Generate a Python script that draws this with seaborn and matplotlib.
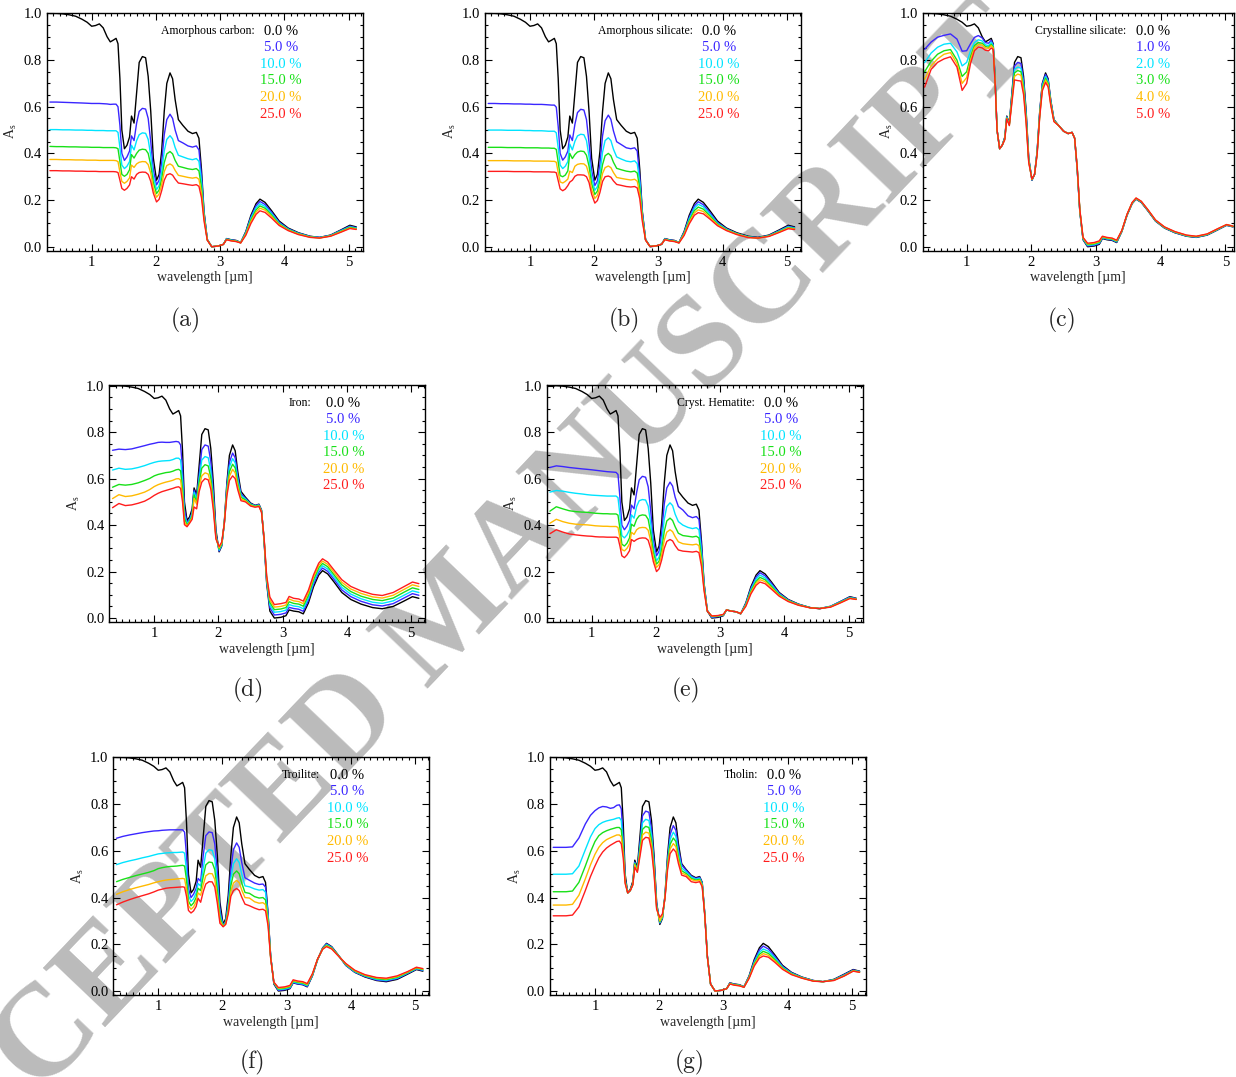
import numpy as np
import pandas as pd
import matplotlib
matplotlib.use("Agg")
import matplotlib.pyplot as plt
from matplotlib.ticker import MultipleLocator, FormatStrFormatter
import seaborn as sns

# ---------------- data ----------------
wl = [0.35, 0.45, 0.55, 0.65, 0.75, 0.85, 0.93, 1.00, 1.06, 1.12,
      1.18, 1.24, 1.29, 1.34, 1.38, 1.41, 1.44, 1.47, 1.51, 1.55,
      1.59, 1.62, 1.66, 1.70, 1.74, 1.79, 1.84, 1.88, 1.92, 1.96,
      2.01, 2.05, 2.09, 2.13, 2.17, 2.22, 2.26, 2.30, 2.35, 2.42,
      2.50, 2.57, 2.63, 2.67, 2.71, 2.75, 2.80, 2.87, 2.97, 3.05,
      3.10, 3.17, 3.25, 3.32, 3.40, 3.48, 3.56, 3.62, 3.70, 3.80,
      3.92, 4.06, 4.22, 4.40, 4.55, 4.72, 4.88, 5.02, 5.12]

ice = [1.000, 1.000, 0.998, 0.994, 0.988, 0.975, 0.962, 0.945, 0.948, 0.955,
       0.938, 0.900, 0.878, 0.886, 0.893, 0.870, 0.720, 0.500, 0.420, 0.435,
       0.470, 0.560, 0.530, 0.660, 0.790, 0.815, 0.810, 0.730, 0.580, 0.380,
       0.285, 0.310, 0.410, 0.580, 0.700, 0.745, 0.720, 0.630, 0.545, 0.520,
       0.495, 0.485, 0.490, 0.465, 0.330, 0.150, 0.030, 0.000, 0.003, 0.010,
       0.035, 0.030, 0.027, 0.018, 0.065, 0.135, 0.185, 0.204, 0.190, 0.155,
       0.110, 0.080, 0.060, 0.045, 0.040, 0.050, 0.072, 0.092, 0.085]

# (a) amorphous carbon
amc_5 = [0.620, 0.620, 0.619, 0.618, 0.617, 0.616, 0.615, 0.614, 0.614, 0.614,
         0.613, 0.612, 0.610, 0.611, 0.611, 0.600, 0.520, 0.400, 0.370, 0.385,
         0.410, 0.475, 0.455, 0.530, 0.580, 0.593, 0.590, 0.550, 0.450, 0.330,
         0.265, 0.285, 0.360, 0.480, 0.545, 0.568, 0.550, 0.500, 0.455, 0.445,
         0.432, 0.427, 0.432, 0.415, 0.305, 0.145, 0.032, 0.000, 0.003, 0.010,
         0.034, 0.029, 0.026, 0.018, 0.062, 0.128, 0.176, 0.194, 0.181, 0.148,
         0.105, 0.077, 0.058, 0.044, 0.040, 0.049, 0.070, 0.088, 0.082]
amc_10 = [0.502, 0.502, 0.501, 0.501, 0.500, 0.500, 0.499, 0.499, 0.498, 0.498,
          0.498, 0.497, 0.497, 0.497, 0.497, 0.490, 0.425, 0.350, 0.335, 0.345,
          0.365, 0.435, 0.415, 0.455, 0.480, 0.488, 0.486, 0.460, 0.390, 0.300,
          0.245, 0.262, 0.320, 0.410, 0.460, 0.476, 0.462, 0.425, 0.392, 0.385,
          0.377, 0.373, 0.378, 0.366, 0.280, 0.135, 0.031, 0.000, 0.003, 0.010,
          0.033, 0.028, 0.025, 0.018, 0.059, 0.122, 0.167, 0.184, 0.173, 0.142,
          0.101, 0.075, 0.057, 0.043, 0.039, 0.048, 0.068, 0.085, 0.080]
amc_15 = [0.430, 0.429, 0.429, 0.428, 0.428, 0.427, 0.427, 0.426, 0.426, 0.426,
          0.425, 0.425, 0.425, 0.425, 0.424, 0.420, 0.365, 0.310, 0.302, 0.310,
          0.330, 0.395, 0.380, 0.400, 0.414, 0.418, 0.416, 0.400, 0.350, 0.275,
          0.228, 0.243, 0.290, 0.360, 0.398, 0.408, 0.398, 0.370, 0.345, 0.340,
          0.334, 0.331, 0.335, 0.325, 0.255, 0.128, 0.030, 0.000, 0.003, 0.010,
          0.032, 0.027, 0.024, 0.017, 0.056, 0.115, 0.158, 0.175, 0.165, 0.136,
          0.098, 0.073, 0.055, 0.042, 0.038, 0.047, 0.066, 0.083, 0.078]
amc_20 = [0.374, 0.374, 0.373, 0.373, 0.372, 0.372, 0.371, 0.371, 0.371, 0.370,
          0.370, 0.370, 0.370, 0.370, 0.369, 0.365, 0.320, 0.280, 0.272, 0.280,
          0.295, 0.350, 0.340, 0.355, 0.362, 0.365, 0.364, 0.352, 0.315, 0.250,
          0.212, 0.226, 0.265, 0.322, 0.348, 0.355, 0.348, 0.327, 0.306, 0.302,
          0.297, 0.294, 0.297, 0.289, 0.230, 0.120, 0.029, 0.000, 0.003, 0.010,
          0.031, 0.026, 0.023, 0.017, 0.053, 0.108, 0.149, 0.165, 0.157, 0.130,
          0.095, 0.071, 0.054, 0.041, 0.038, 0.046, 0.064, 0.080, 0.076]
amc_25 = [0.326, 0.326, 0.325, 0.325, 0.324, 0.324, 0.323, 0.323, 0.323, 0.322,
          0.322, 0.322, 0.322, 0.322, 0.321, 0.318, 0.285, 0.250, 0.242, 0.250,
          0.265, 0.300, 0.290, 0.310, 0.318, 0.320, 0.319, 0.310, 0.280, 0.230,
          0.192, 0.203, 0.240, 0.285, 0.308, 0.313, 0.307, 0.290, 0.273, 0.270,
          0.266, 0.263, 0.266, 0.259, 0.210, 0.110, 0.028, 0.000, 0.003, 0.010,
          0.030, 0.025, 0.022, 0.016, 0.049, 0.100, 0.139, 0.154, 0.147, 0.123,
          0.091, 0.069, 0.052, 0.040, 0.037, 0.045, 0.062, 0.078, 0.074]

# (b) amorphous silicate
ams_5 = [0.614, 0.614, 0.613, 0.613, 0.612, 0.612, 0.611, 0.611, 0.610, 0.610,
         0.610, 0.609, 0.608, 0.607, 0.607, 0.598, 0.515, 0.400, 0.371, 0.385,
         0.410, 0.479, 0.455, 0.525, 0.575, 0.589, 0.586, 0.545, 0.445, 0.328,
         0.262, 0.282, 0.356, 0.475, 0.540, 0.564, 0.546, 0.496, 0.450, 0.438,
         0.424, 0.420, 0.424, 0.410, 0.300, 0.145, 0.032, 0.001, 0.004, 0.011,
         0.034, 0.029, 0.026, 0.018, 0.061, 0.126, 0.175, 0.193, 0.180, 0.147,
         0.104, 0.077, 0.057, 0.043, 0.039, 0.048, 0.069, 0.088, 0.082]
ams_10 = [0.500, 0.500, 0.500, 0.499, 0.499, 0.499, 0.498, 0.498, 0.497, 0.497,
          0.497, 0.496, 0.495, 0.495, 0.495, 0.488, 0.423, 0.350, 0.335, 0.345,
          0.365, 0.440, 0.415, 0.452, 0.475, 0.482, 0.480, 0.455, 0.385, 0.295,
          0.242, 0.258, 0.315, 0.405, 0.455, 0.467, 0.455, 0.418, 0.385, 0.376,
          0.367, 0.364, 0.368, 0.356, 0.275, 0.135, 0.031, 0.001, 0.004, 0.011,
          0.033, 0.028, 0.025, 0.018, 0.058, 0.119, 0.165, 0.182, 0.171, 0.140,
          0.100, 0.075, 0.056, 0.042, 0.038, 0.047, 0.067, 0.085, 0.080]
ams_15 = [0.426, 0.426, 0.426, 0.425, 0.425, 0.425, 0.424, 0.424, 0.424, 0.424,
          0.423, 0.423, 0.423, 0.422, 0.422, 0.417, 0.362, 0.305, 0.300, 0.307,
          0.325, 0.400, 0.378, 0.395, 0.406, 0.410, 0.408, 0.392, 0.345, 0.270,
          0.224, 0.238, 0.285, 0.352, 0.390, 0.400, 0.390, 0.362, 0.336, 0.330,
          0.324, 0.321, 0.324, 0.316, 0.250, 0.127, 0.030, 0.001, 0.004, 0.011,
          0.032, 0.027, 0.024, 0.017, 0.055, 0.112, 0.155, 0.170, 0.161, 0.133,
          0.097, 0.073, 0.055, 0.041, 0.038, 0.046, 0.065, 0.082, 0.078]
ams_20 = [0.369, 0.369, 0.369, 0.369, 0.368, 0.368, 0.368, 0.368, 0.367, 0.367,
          0.367, 0.367, 0.367, 0.366, 0.366, 0.362, 0.318, 0.278, 0.273, 0.280,
          0.290, 0.324, 0.318, 0.345, 0.353, 0.356, 0.355, 0.345, 0.308, 0.245,
          0.207, 0.220, 0.258, 0.314, 0.339, 0.346, 0.339, 0.318, 0.297, 0.293,
          0.289, 0.286, 0.289, 0.281, 0.225, 0.118, 0.029, 0.001, 0.004, 0.011,
          0.031, 0.026, 0.023, 0.017, 0.052, 0.105, 0.145, 0.158, 0.151, 0.126,
          0.094, 0.071, 0.054, 0.040, 0.037, 0.045, 0.063, 0.080, 0.076]
ams_25 = [0.323, 0.323, 0.323, 0.323, 0.322, 0.322, 0.322, 0.322, 0.321, 0.321,
          0.321, 0.321, 0.321, 0.320, 0.320, 0.317, 0.283, 0.248, 0.240, 0.247,
          0.262, 0.277, 0.285, 0.302, 0.308, 0.308, 0.307, 0.300, 0.275, 0.225,
          0.187, 0.198, 0.233, 0.280, 0.300, 0.303, 0.298, 0.282, 0.267, 0.263,
          0.258, 0.256, 0.258, 0.252, 0.205, 0.108, 0.028, 0.001, 0.004, 0.011,
          0.030, 0.025, 0.022, 0.016, 0.048, 0.098, 0.135, 0.146, 0.141, 0.119,
          0.090, 0.069, 0.052, 0.039, 0.037, 0.044, 0.061, 0.077, 0.074]

# (c) crystalline silicate
crs_1 = [0.846, 0.877, 0.898, 0.906, 0.912, 0.890, 0.838, 0.840, 0.870, 0.897,
         0.905, 0.895, 0.875, 0.872, 0.885, 0.866, 0.716, 0.500, 0.420, 0.435,
         0.467, 0.557, 0.527, 0.650, 0.775, 0.790, 0.785, 0.712, 0.568, 0.376,
         0.286, 0.310, 0.408, 0.577, 0.697, 0.738, 0.714, 0.626, 0.544, 0.520,
         0.495, 0.485, 0.490, 0.465, 0.332, 0.152, 0.032, 0.003, 0.006, 0.013,
         0.037, 0.032, 0.029, 0.020, 0.066, 0.135, 0.186, 0.205, 0.191, 0.156,
         0.111, 0.081, 0.061, 0.046, 0.041, 0.051, 0.073, 0.092, 0.086]
crs_2 = [0.789, 0.830, 0.855, 0.868, 0.872, 0.835, 0.775, 0.790, 0.840, 0.875,
         0.887, 0.882, 0.865, 0.862, 0.877, 0.862, 0.712, 0.500, 0.420, 0.435,
         0.465, 0.555, 0.525, 0.642, 0.760, 0.770, 0.765, 0.697, 0.557, 0.372,
         0.287, 0.310, 0.405, 0.572, 0.690, 0.730, 0.707, 0.622, 0.542, 0.520,
         0.495, 0.485, 0.490, 0.465, 0.334, 0.154, 0.034, 0.006, 0.009, 0.016,
         0.039, 0.034, 0.031, 0.022, 0.067, 0.136, 0.187, 0.206, 0.192, 0.157,
         0.112, 0.082, 0.062, 0.047, 0.042, 0.052, 0.074, 0.093, 0.086]
crs_3 = [0.750, 0.795, 0.825, 0.840, 0.845, 0.800, 0.730, 0.750, 0.815, 0.862,
         0.875, 0.872, 0.858, 0.855, 0.868, 0.857, 0.708, 0.500, 0.420, 0.435,
         0.463, 0.552, 0.523, 0.634, 0.745, 0.755, 0.750, 0.682, 0.547, 0.368,
         0.288, 0.310, 0.402, 0.567, 0.683, 0.722, 0.700, 0.617, 0.540, 0.520,
         0.495, 0.485, 0.490, 0.465, 0.336, 0.156, 0.036, 0.009, 0.012, 0.019,
         0.041, 0.036, 0.033, 0.024, 0.068, 0.137, 0.188, 0.207, 0.193, 0.158,
         0.113, 0.083, 0.063, 0.048, 0.043, 0.053, 0.075, 0.094, 0.087]
crs_4 = [0.718, 0.775, 0.805, 0.825, 0.832, 0.785, 0.700, 0.725, 0.800, 0.853,
         0.866, 0.865, 0.852, 0.850, 0.862, 0.852, 0.704, 0.500, 0.420, 0.435,
         0.461, 0.550, 0.521, 0.626, 0.730, 0.740, 0.735, 0.668, 0.538, 0.364,
         0.289, 0.310, 0.399, 0.562, 0.676, 0.714, 0.693, 0.612, 0.538, 0.520,
         0.495, 0.485, 0.490, 0.465, 0.338, 0.158, 0.038, 0.012, 0.015, 0.022,
         0.043, 0.038, 0.035, 0.026, 0.069, 0.138, 0.189, 0.208, 0.194, 0.159,
         0.114, 0.084, 0.064, 0.049, 0.044, 0.054, 0.076, 0.095, 0.088]
crs_5 = [0.684, 0.760, 0.790, 0.805, 0.814, 0.770, 0.670, 0.700, 0.785, 0.840,
         0.856, 0.852, 0.842, 0.840, 0.852, 0.845, 0.700, 0.500, 0.420, 0.435,
         0.459, 0.548, 0.519, 0.618, 0.715, 0.712, 0.710, 0.652, 0.528, 0.360,
         0.290, 0.310, 0.396, 0.556, 0.668, 0.704, 0.685, 0.607, 0.536, 0.520,
         0.495, 0.485, 0.490, 0.465, 0.340, 0.160, 0.040, 0.015, 0.018, 0.025,
         0.045, 0.040, 0.037, 0.028, 0.070, 0.139, 0.190, 0.209, 0.195, 0.160,
         0.115, 0.085, 0.065, 0.050, 0.045, 0.055, 0.077, 0.095, 0.088]

# (d) iron
iron_5 = [0.722, 0.727, 0.725, 0.728, 0.735, 0.742, 0.748, 0.752, 0.756, 0.757,
          0.756, 0.756, 0.758, 0.760, 0.758, 0.745, 0.640, 0.470, 0.410, 0.425,
          0.455, 0.550, 0.520, 0.620, 0.725, 0.745, 0.740, 0.675, 0.540, 0.365,
          0.288, 0.312, 0.405, 0.565, 0.670, 0.710, 0.690, 0.610, 0.535, 0.515,
          0.492, 0.484, 0.488, 0.463, 0.335, 0.157, 0.044, 0.013, 0.016, 0.022,
          0.046, 0.041, 0.038, 0.029, 0.076, 0.146, 0.196, 0.215, 0.201, 0.166,
          0.121, 0.092, 0.072, 0.057, 0.052, 0.062, 0.085, 0.105, 0.098]
iron_10 = [0.637, 0.645, 0.640, 0.642, 0.648, 0.656, 0.664, 0.670, 0.674, 0.676,
           0.677, 0.678, 0.682, 0.688, 0.688, 0.680, 0.590, 0.445, 0.405, 0.420,
           0.448, 0.542, 0.510, 0.600, 0.680, 0.695, 0.690, 0.635, 0.515, 0.355,
           0.292, 0.315, 0.405, 0.555, 0.650, 0.686, 0.668, 0.595, 0.528, 0.512,
           0.490, 0.483, 0.486, 0.461, 0.338, 0.164, 0.056, 0.025, 0.028, 0.034,
           0.058, 0.052, 0.049, 0.040, 0.087, 0.156, 0.206, 0.225, 0.211, 0.176,
           0.132, 0.103, 0.083, 0.068, 0.063, 0.074, 0.097, 0.117, 0.110]
iron_15 = [0.563, 0.575, 0.572, 0.575, 0.582, 0.592, 0.601, 0.612, 0.618, 0.622,
           0.626, 0.628, 0.632, 0.638, 0.640, 0.634, 0.555, 0.430, 0.400, 0.416,
           0.440, 0.530, 0.500, 0.585, 0.645, 0.660, 0.655, 0.605, 0.498, 0.350,
           0.297, 0.318, 0.405, 0.545, 0.630, 0.662, 0.646, 0.580, 0.520, 0.508,
           0.488, 0.481, 0.484, 0.459, 0.340, 0.170, 0.067, 0.036, 0.039, 0.045,
           0.070, 0.063, 0.060, 0.051, 0.098, 0.166, 0.216, 0.235, 0.221, 0.186,
           0.143, 0.114, 0.094, 0.080, 0.075, 0.086, 0.110, 0.130, 0.123]
iron_20 = [0.514, 0.531, 0.523, 0.526, 0.533, 0.542, 0.553, 0.566, 0.574, 0.580,
           0.585, 0.589, 0.593, 0.599, 0.600, 0.594, 0.525, 0.415, 0.396, 0.412,
           0.432, 0.515, 0.490, 0.565, 0.612, 0.625, 0.620, 0.578, 0.480, 0.345,
           0.302, 0.322, 0.405, 0.535, 0.610, 0.640, 0.625, 0.567, 0.512, 0.504,
           0.485, 0.479, 0.482, 0.457, 0.342, 0.176, 0.078, 0.047, 0.050, 0.056,
           0.082, 0.074, 0.071, 0.062, 0.109, 0.176, 0.226, 0.245, 0.231, 0.196,
           0.154, 0.125, 0.106, 0.091, 0.086, 0.098, 0.122, 0.143, 0.136]
iron_25 = [0.475, 0.493, 0.484, 0.487, 0.494, 0.503, 0.515, 0.528, 0.537, 0.544,
           0.549, 0.554, 0.558, 0.563, 0.565, 0.558, 0.500, 0.402, 0.393, 0.408,
           0.425, 0.478, 0.470, 0.545, 0.585, 0.600, 0.595, 0.555, 0.465, 0.340,
           0.308, 0.327, 0.405, 0.525, 0.592, 0.612, 0.600, 0.552, 0.505, 0.500,
           0.482, 0.477, 0.480, 0.455, 0.345, 0.182, 0.090, 0.058, 0.062, 0.067,
           0.093, 0.085, 0.082, 0.073, 0.120, 0.186, 0.236, 0.255, 0.241, 0.206,
           0.165, 0.136, 0.117, 0.102, 0.097, 0.110, 0.134, 0.155, 0.148]

# (e) crystalline hematite
hem_5 = [0.648, 0.655, 0.652, 0.648, 0.645, 0.642, 0.640, 0.638, 0.636, 0.634,
         0.632, 0.630, 0.629, 0.628, 0.627, 0.618, 0.520, 0.400, 0.380, 0.395,
         0.420, 0.486, 0.470, 0.540, 0.595, 0.610, 0.606, 0.565, 0.460, 0.335,
         0.268, 0.288, 0.365, 0.490, 0.560, 0.585, 0.568, 0.520, 0.480, 0.465,
         0.440, 0.432, 0.437, 0.425, 0.310, 0.148, 0.034, 0.003, 0.006, 0.012,
         0.035, 0.030, 0.027, 0.019, 0.062, 0.128, 0.176, 0.195, 0.182, 0.149,
         0.107, 0.078, 0.059, 0.045, 0.041, 0.051, 0.072, 0.090, 0.084]
hem_10 = [0.542, 0.549, 0.546, 0.541, 0.537, 0.534, 0.531, 0.529, 0.528, 0.527,
          0.526, 0.525, 0.525, 0.525, 0.525, 0.518, 0.445, 0.355, 0.345, 0.358,
          0.380, 0.444, 0.430, 0.480, 0.505, 0.510, 0.508, 0.482, 0.405, 0.305,
          0.246, 0.263, 0.325, 0.425, 0.480, 0.496, 0.484, 0.447, 0.415, 0.400,
          0.390, 0.385, 0.389, 0.380, 0.285, 0.140, 0.033, 0.005, 0.008, 0.013,
          0.035, 0.030, 0.027, 0.019, 0.059, 0.122, 0.167, 0.185, 0.173, 0.142,
          0.103, 0.076, 0.058, 0.045, 0.041, 0.050, 0.070, 0.088, 0.083]
hem_15 = [0.460, 0.479, 0.470, 0.462, 0.458, 0.456, 0.455, 0.453, 0.451, 0.450,
          0.449, 0.449, 0.448, 0.448, 0.448, 0.443, 0.385, 0.318, 0.310, 0.322,
          0.345, 0.404, 0.395, 0.425, 0.440, 0.444, 0.442, 0.425, 0.365, 0.283,
          0.232, 0.245, 0.295, 0.372, 0.418, 0.430, 0.420, 0.393, 0.365, 0.355,
          0.352, 0.349, 0.352, 0.345, 0.262, 0.132, 0.032, 0.007, 0.009, 0.014,
          0.035, 0.030, 0.027, 0.019, 0.056, 0.116, 0.158, 0.175, 0.165, 0.136,
          0.100, 0.075, 0.057, 0.045, 0.041, 0.049, 0.069, 0.086, 0.082]
hem_20 = [0.408, 0.425, 0.415, 0.408, 0.404, 0.402, 0.401, 0.399, 0.397, 0.396,
          0.395, 0.395, 0.394, 0.394, 0.394, 0.390, 0.345, 0.295, 0.289, 0.300,
          0.320, 0.369, 0.360, 0.380, 0.388, 0.390, 0.389, 0.378, 0.330, 0.262,
          0.218, 0.230, 0.272, 0.335, 0.370, 0.380, 0.372, 0.350, 0.328, 0.320,
          0.317, 0.315, 0.318, 0.312, 0.242, 0.125, 0.031, 0.008, 0.010, 0.015,
          0.035, 0.030, 0.027, 0.019, 0.053, 0.110, 0.150, 0.165, 0.157, 0.130,
          0.097, 0.073, 0.056, 0.044, 0.041, 0.048, 0.067, 0.085, 0.081]
hem_25 = [0.363, 0.380, 0.370, 0.362, 0.358, 0.355, 0.353, 0.352, 0.350, 0.349,
          0.349, 0.348, 0.348, 0.348, 0.348, 0.345, 0.310, 0.268, 0.260, 0.272,
          0.290, 0.338, 0.330, 0.338, 0.343, 0.345, 0.344, 0.335, 0.298, 0.243,
          0.200, 0.212, 0.250, 0.300, 0.330, 0.338, 0.332, 0.312, 0.293, 0.288,
          0.286, 0.284, 0.287, 0.282, 0.222, 0.118, 0.030, 0.009, 0.011, 0.016,
          0.035, 0.030, 0.027, 0.019, 0.050, 0.104, 0.141, 0.155, 0.148, 0.124,
          0.094, 0.071, 0.055, 0.044, 0.041, 0.047, 0.066, 0.084, 0.080]

# (f) troilite
troi_5 = [0.654, 0.662, 0.668, 0.673, 0.678, 0.682, 0.685, 0.686, 0.688, 0.689,
          0.690, 0.690, 0.690, 0.690, 0.690, 0.680, 0.580, 0.440, 0.400, 0.415,
          0.440, 0.482, 0.470, 0.580, 0.665, 0.681, 0.678, 0.630, 0.510, 0.350,
          0.280, 0.300, 0.380, 0.520, 0.605, 0.634, 0.615, 0.550, 0.485, 0.474,
          0.462, 0.456, 0.458, 0.445, 0.325, 0.150, 0.034, 0.003, 0.006, 0.012,
          0.036, 0.031, 0.028, 0.020, 0.066, 0.133, 0.183, 0.202, 0.188, 0.154,
          0.110, 0.081, 0.062, 0.047, 0.043, 0.053, 0.075, 0.094, 0.088]
troi_10 = [0.541, 0.550, 0.557, 0.563, 0.570, 0.576, 0.582, 0.587, 0.589, 0.591,
           0.592, 0.593, 0.593, 0.594, 0.595, 0.590, 0.515, 0.410, 0.383, 0.395,
           0.420, 0.460, 0.450, 0.525, 0.590, 0.605, 0.602, 0.565, 0.465, 0.330,
           0.278, 0.295, 0.365, 0.480, 0.545, 0.566, 0.550, 0.500, 0.450, 0.446,
           0.437, 0.432, 0.434, 0.423, 0.315, 0.148, 0.035, 0.006, 0.009, 0.015,
           0.039, 0.034, 0.031, 0.023, 0.068, 0.134, 0.182, 0.199, 0.186, 0.154,
           0.112, 0.083, 0.064, 0.050, 0.046, 0.056, 0.077, 0.096, 0.090]
troi_15 = [0.468, 0.478, 0.486, 0.494, 0.501, 0.508, 0.515, 0.524, 0.528, 0.531,
           0.533, 0.534, 0.535, 0.537, 0.538, 0.535, 0.475, 0.385, 0.365, 0.377,
           0.400, 0.440, 0.430, 0.490, 0.540, 0.552, 0.550, 0.520, 0.430, 0.315,
           0.277, 0.291, 0.352, 0.450, 0.500, 0.514, 0.502, 0.462, 0.422, 0.418,
           0.404, 0.398, 0.400, 0.390, 0.300, 0.145, 0.036, 0.009, 0.012, 0.018,
           0.042, 0.037, 0.034, 0.026, 0.070, 0.135, 0.181, 0.196, 0.184, 0.153,
           0.114, 0.085, 0.066, 0.053, 0.049, 0.059, 0.079, 0.098, 0.092]
troi_20 = [0.414, 0.425, 0.434, 0.442, 0.449, 0.456, 0.463, 0.468, 0.472, 0.475,
           0.477, 0.478, 0.480, 0.481, 0.482, 0.480, 0.435, 0.365, 0.350, 0.360,
           0.382, 0.420, 0.410, 0.455, 0.493, 0.503, 0.502, 0.478, 0.400, 0.302,
           0.276, 0.288, 0.340, 0.425, 0.462, 0.474, 0.464, 0.432, 0.400, 0.398,
           0.382, 0.376, 0.378, 0.370, 0.290, 0.142, 0.037, 0.012, 0.015, 0.021,
           0.045, 0.040, 0.037, 0.029, 0.072, 0.136, 0.180, 0.193, 0.182, 0.152,
           0.116, 0.087, 0.068, 0.056, 0.052, 0.062, 0.081, 0.100, 0.094]
troi_25 = [0.369, 0.381, 0.391, 0.400, 0.408, 0.416, 0.424, 0.432, 0.436, 0.440,
           0.442, 0.443, 0.444, 0.445, 0.446, 0.444, 0.405, 0.345, 0.334, 0.343,
           0.362, 0.397, 0.380, 0.425, 0.458, 0.468, 0.467, 0.445, 0.375, 0.290,
           0.275, 0.285, 0.330, 0.405, 0.430, 0.439, 0.430, 0.402, 0.372, 0.365,
           0.355, 0.348, 0.350, 0.343, 0.278, 0.140, 0.038, 0.015, 0.018, 0.024,
           0.048, 0.043, 0.040, 0.032, 0.074, 0.137, 0.179, 0.190, 0.180, 0.151,
           0.118, 0.089, 0.070, 0.058, 0.055, 0.065, 0.083, 0.102, 0.096]

# (g) tholin
thol_5 = [0.615, 0.615, 0.615, 0.617, 0.655, 0.715, 0.752, 0.772, 0.784, 0.790,
          0.788, 0.782, 0.785, 0.795, 0.797, 0.780, 0.650, 0.480, 0.420, 0.430,
          0.462, 0.552, 0.522, 0.630, 0.750, 0.770, 0.765, 0.695, 0.560, 0.375,
          0.290, 0.313, 0.405, 0.560, 0.670, 0.708, 0.688, 0.610, 0.540, 0.517,
          0.492, 0.482, 0.487, 0.462, 0.330, 0.150, 0.030, 0.000, 0.003, 0.010,
          0.034, 0.029, 0.026, 0.018, 0.062, 0.128, 0.176, 0.192, 0.180, 0.148,
          0.106, 0.078, 0.059, 0.045, 0.040, 0.049, 0.070, 0.090, 0.084]
thol_10 = [0.500, 0.500, 0.500, 0.502, 0.535, 0.605, 0.660, 0.695, 0.712, 0.722,
           0.728, 0.732, 0.735, 0.740, 0.742, 0.730, 0.625, 0.475, 0.420, 0.430,
           0.460, 0.548, 0.518, 0.615, 0.720, 0.735, 0.730, 0.668, 0.542, 0.368,
           0.293, 0.315, 0.403, 0.550, 0.648, 0.680, 0.662, 0.590, 0.527, 0.510,
           0.488, 0.479, 0.483, 0.459, 0.328, 0.149, 0.030, 0.000, 0.003, 0.010,
           0.033, 0.028, 0.025, 0.018, 0.060, 0.122, 0.166, 0.180, 0.170, 0.141,
           0.102, 0.076, 0.058, 0.044, 0.040, 0.048, 0.068, 0.088, 0.083]
thol_15 = [0.425, 0.425, 0.425, 0.428, 0.465, 0.535, 0.595, 0.640, 0.665, 0.678,
           0.686, 0.692, 0.696, 0.700, 0.700, 0.690, 0.605, 0.470, 0.420, 0.430,
           0.458, 0.545, 0.515, 0.600, 0.692, 0.705, 0.700, 0.645, 0.527, 0.362,
           0.296, 0.318, 0.400, 0.540, 0.628, 0.655, 0.640, 0.574, 0.515, 0.503,
           0.482, 0.475, 0.478, 0.455, 0.326, 0.148, 0.030, 0.000, 0.003, 0.010,
           0.032, 0.027, 0.024, 0.017, 0.058, 0.117, 0.157, 0.170, 0.161, 0.135,
           0.099, 0.074, 0.057, 0.043, 0.040, 0.047, 0.066, 0.087, 0.082]
thol_20 = [0.368, 0.368, 0.368, 0.371, 0.410, 0.480, 0.540, 0.585, 0.615, 0.635,
           0.648, 0.656, 0.662, 0.668, 0.668, 0.660, 0.590, 0.465, 0.420, 0.430,
           0.456, 0.540, 0.512, 0.588, 0.668, 0.680, 0.676, 0.625, 0.513, 0.356,
           0.300, 0.322, 0.398, 0.530, 0.608, 0.631, 0.618, 0.560, 0.505, 0.497,
           0.477, 0.471, 0.474, 0.451, 0.324, 0.147, 0.030, 0.000, 0.003, 0.010,
           0.031, 0.026, 0.023, 0.017, 0.056, 0.112, 0.149, 0.160, 0.153, 0.129,
           0.096, 0.072, 0.056, 0.043, 0.040, 0.046, 0.065, 0.086, 0.081]
thol_25 = [0.322, 0.322, 0.322, 0.325, 0.360, 0.430, 0.490, 0.535, 0.570, 0.595,
           0.612, 0.624, 0.632, 0.640, 0.642, 0.630, 0.570, 0.460, 0.420, 0.430,
           0.454, 0.530, 0.508, 0.575, 0.645, 0.658, 0.655, 0.605, 0.500, 0.350,
           0.315, 0.330, 0.396, 0.518, 0.588, 0.608, 0.595, 0.545, 0.496, 0.490,
           0.468, 0.464, 0.468, 0.446, 0.322, 0.146, 0.030, 0.000, 0.003, 0.010,
           0.030, 0.025, 0.022, 0.016, 0.054, 0.107, 0.141, 0.150, 0.145, 0.123,
           0.093, 0.070, 0.055, 0.042, 0.040, 0.045, 0.064, 0.085, 0.080]

pct_main = ["0.0 %", "5.0 %", "10.0 %", "15.0 %", "20.0 %", "25.0 %"]
pct_cryst = ["0.0 %", "1.0 %", "2.0 %", "3.0 %", "4.0 %", "5.0 %"]
materials = ["Amorphous carbon:", "Amorphous silicate:", "Crystalline silicate:",
             "Iron:", "Cryst. Hematite:", "Troilite:", "Tholin:"]
panel_tags = ["(a)", "(b)", "(c)", "(d)", "(e)", "(f)", "(g)"]

# ---------------- style ----------------
colors = ["#000000", "#3a26ff", "#00e4ff", "#18e018", "#ffba00", "#ff1c1c"]

sns.set_theme(style="ticks")
plt.rcParams["font.family"] = ["Liberation Serif", "DejaVu Serif"]
plt.rcParams["mathtext.fontset"] = "custom"
plt.rcParams["mathtext.rm"] = "Liberation Serif"
plt.rcParams["mathtext.it"] = "Liberation Serif:italic"

W, H = 1236, 1077
fig = plt.figure(figsize=(W / 100, H / 100), dpi=100)
fig.patch.set_facecolor("white")

# axes boxes in pixels: left, top, width, height
boxes = [(46.7, 12.7, 316, 238), (485, 12.7, 316, 238), (922.7, 12.7, 311, 238),
         (109.3, 385, 316, 237), (546.7, 385, 316, 237),
         (113.3, 756.7, 316, 238.3), (550, 756.7, 316, 238.3)]
xlims = [(0.3, 5.22)] * 2 + [(0.32, 5.13)] + [(0.3, 5.22)] * 4
tag_pos = [(186, 320), (624, 320), (1062, 320), (248, 690), (686, 690),
           (252, 1062), (690, 1062)]
title_x = [0.657, 0.657, 0.656, 0.640, 0.659, 0.653, 0.659]

panel_series = [
    [ice, amc_5, amc_10, amc_15, amc_20, amc_25],
    [ice, ams_5, ams_10, ams_15, ams_20, ams_25],
    [ice, crs_1, crs_2, crs_3, crs_4, crs_5],
    [ice, iron_5, iron_10, iron_15, iron_20, iron_25],
    [ice, hem_5, hem_10, hem_15, hem_20, hem_25],
    [ice, troi_5, troi_10, troi_15, troi_20, troi_25],
    [ice, thol_5, thol_10, thol_15, thol_20, thol_25],
]

for i, series in enumerate(panel_series):
    l, t, w, h = boxes[i]
    ax = fig.add_axes([l / W, 1 - (t + h) / H, w / W, h / H])
    ax.set_facecolor("none")
    labels = pct_cryst if i == 2 else pct_main
    df = pd.DataFrame({
        "wavelength": np.tile(wl, len(series)),
        "albedo": np.concatenate([np.asarray(s) for s in series]),
        "series": np.repeat(labels, len(wl)),
    })
    sns.lineplot(data=df, x="wavelength", y="albedo", hue="series",
                 hue_order=labels, palette=dict(zip(labels, colors)),
                 estimator=None, sort=False, legend=False, ax=ax, linewidth=1.0)
    ax.set_xlim(*xlims[i])
    ax.set_ylim(-0.017, 1.003)
    ax.xaxis.set_major_locator(MultipleLocator(1))
    ax.xaxis.set_minor_locator(MultipleLocator(0.1))
    ax.yaxis.set_major_locator(MultipleLocator(0.2))
    ax.yaxis.set_minor_locator(MultipleLocator(0.05))
    ax.yaxis.set_major_formatter(FormatStrFormatter("%.1f"))
    ax.tick_params(which="both", direction="in", top=True, right=True,
                   colors="black", labelsize=10.5, width=0.8)
    ax.tick_params(which="major", length=5, pad=3.5)
    ax.tick_params(which="minor", length=2.5)
    for sp in ax.spines.values():
        sp.set_linewidth(1.0)
        sp.set_color("black")
    ax.set_xlabel("wavelength [µm]", fontsize=10, labelpad=2)
    ax.set_ylabel("A$_\\mathrm{s}$", fontsize=10, labelpad=3)

    y0, dy = 0.923, 0.0698
    ax.text(title_x[i], y0, materials[i], transform=ax.transAxes,
            ha="right", va="center", fontsize=8.5, color="black")
    for k, (lab, c) in enumerate(zip(labels, colors)):
        ax.text(0.741, y0 - k * dy, lab, transform=ax.transAxes,
                ha="center", va="center", fontsize=10.5, color=c)

    tx, ty = tag_pos[i]
    fig.text(tx / W, 1 - ty / H, panel_tags[i], fontsize=17, family="cmr10",
             ha="center", va="center")

# watermark
fig.text(450 / W, 1 - 620 / H, "ACCEPTED MANUSCRIPT", fontsize=94,
         color="#bbbbbb", rotation=46.4, rotation_mode="anchor",
         ha="center", va="center", zorder=-1, family="Liberation Serif",
         fontweight="bold")

fig.savefig("out.png", dpi=100)
